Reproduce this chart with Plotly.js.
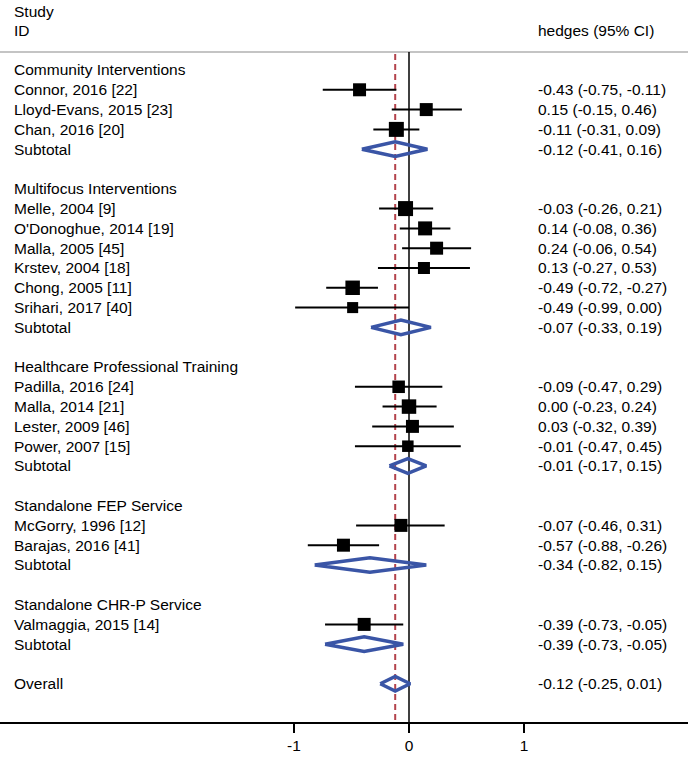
<!DOCTYPE html>
<html>
<head>
<meta charset="utf-8">
<script src="https://cdn.plot.ly/plotly-3.0.1.min.js"></script>
<style>html,body{margin:0;padding:0;background:#fff;}#chart{width:688px;height:758px;}</style>
</head>
<body>
<div id="chart"></div>
<script>
// ---- data ----
const rowLabels = [
  "Community Interventions","Connor, 2016 [22]","Lloyd-Evans, 2015 [23]","Chan, 2016 [20]","Subtotal","",
  "Multifocus Interventions","Melle, 2004 [9]","O'Donoghue, 2014 [19]","Malla, 2005 [45]","Krstev, 2004 [18]","Chong, 2005 [11]","Srihari, 2017 [40]","Subtotal","",
  "Healthcare Professional Training","Padilla, 2016 [24]","Malla, 2014 [21]","Lester, 2009 [46]","Power, 2007 [15]","Subtotal","",
  "Standalone FEP Service","McGorry, 1996 [12]","Barajas, 2016 [41]","Subtotal","",
  "Standalone CHR-P Service","Valmaggia, 2015 [14]","Subtotal","",
  "Overall"
];
// h = group header, s = study, d = pooled (diamond), b = blank
const rowKind = ['h','s','s','s','d','b', 'h','s','s','s','s','s','s','d','b', 'h','s','s','s','s','d','b', 'h','s','s','d','b', 'h','s','d','b', 'd'];
const hedges = [null,-0.43,0.15,-0.11,-0.12,null, null,-0.03,0.14,0.24,0.13,-0.49,-0.49,-0.07,null, null,-0.09,0.00,0.03,-0.01,-0.01,null, null,-0.07,-0.57,-0.34,null, null,-0.39,-0.39,null, -0.12];
const ciLow  = [null,-0.75,-0.15,-0.31,-0.41,null, null,-0.26,-0.08,-0.06,-0.27,-0.72,-0.99,-0.33,null, null,-0.47,-0.23,-0.32,-0.47,-0.17,null, null,-0.46,-0.88,-0.82,null, null,-0.73,-0.73,null, -0.25];
const ciHigh = [null,-0.11,0.46,0.09,0.16,null, null,0.21,0.36,0.54,0.53,-0.27,0.00,0.19,null, null,0.29,0.24,0.39,0.45,0.15,null, null,0.31,-0.26,0.15,null, null,-0.05,-0.05,null, 0.01];
// relative study weights
const studyWeight = [null,11.1,11.1,14.8,null,null, null,14.8,12.9,11.1,9.5,13.8,8.0,null,null, null,10.3,13.8,11.1,8.7,null,null, null,11.1,11.1,null,null, null,11.1,null,null, null];
const overallEstimate = -0.12;
const xTicks = [-1, 0, 1];
const xTickText = ["-1", "0", "1"];

// ---- style ----
const FONT = "Liberation Sans, Arial, Helvetica, sans-serif";
const FS = 15.5;
const BLUE = "#3a55a6";
const RED = "#b3434c";
const rowTop = -3.535, rowBottom = 32.93, sepRow = -0.91;

const rows = rowLabels.map((_, i) => i);
const traces = [];

// CI lines
const lx = [], ly = [];
rows.forEach(i => { if (rowKind[i] === 's') { lx.push(ciLow[i], ciHigh[i], null); ly.push(i, i, null); } });
traces.push({type:'scatter', mode:'lines', x:lx, y:ly, line:{color:'#000', width:2}, hoverinfo:'skip', showlegend:false});

// squares
const sx = [], sy = [], ss = [];
rows.forEach(i => { if (rowKind[i] === 's') { sx.push(hedges[i]); sy.push(i); ss.push(3.9*Math.sqrt(studyWeight[i])); } });
traces.push({type:'scatter', mode:'markers', x:sx, y:sy, marker:{symbol:'square', size:ss, color:'#000', opacity:1, line:{width:0}}, hoverinfo:'skip', showlegend:false});

// diamonds
const dh = 0.37;
rows.forEach(i => {
  if (rowKind[i] === 'd') {
    traces.push({type:'scatter', mode:'lines',
      x:[ciLow[i], hedges[i], ciHigh[i], hedges[i], ciLow[i]],
      y:[i, i-dh, i, i+dh, i],
      line:{color:BLUE, width:3.5}, hoverinfo:'skip', showlegend:false});
  }
});

// annotations
const ann = [];
const leftX = 12/688, rightX = 536/688;
function addText(text, x, y) {
  ann.push({text:text, x:x, xref:'paper', y:y, yref:'y', xanchor:'left', yanchor:'middle', showarrow:false, font:{family:FONT, size:FS, color:'#000'}});
}
rows.forEach(i => {
  if (rowLabels[i]) addText(rowLabels[i], leftX, i);
  if (rowKind[i] === 's' || rowKind[i] === 'd') {
    addText(hedges[i].toFixed(2) + " (" + ciLow[i].toFixed(2) + ", " + ciHigh[i].toFixed(2) + ")", rightX, i);
  }
});
addText("Study", leftX, -2.93);
addText("ID", leftX, -2.0);
addText("hedges (95% CI)", rightX, -2.0);

const shapes = [
  {type:'line', xref:'paper', x0:0, x1:1, yref:'y', y0:sepRow, y1:sepRow, line:{color:'#c4c4c4', width:2}, layer:'below'},
  {type:'line', xref:'x', x0:0, x1:0, yref:'y', y0:sepRow, y1:rowBottom, line:{color:'#000', width:1.5}, layer:'below'},
  {type:'line', xref:'x', x0:overallEstimate, x1:overallEstimate, yref:'y', y0:sepRow+0.1, y1:rowBottom, line:{color:RED, width:2, dash:'6px,4px'}, layer:'below'}
];

const layout = {
  width:688, height:758,
  margin:{l:0, r:0, t:0, b:36, pad:0},
  paper_bgcolor:'#fff', plot_bgcolor:'#fff',
  showlegend:false,
  xaxis:{range:[-409/115, 279/115], autorange:false, showgrid:false, zeroline:false,
         showline:true, linecolor:'#000', linewidth:1.5,
         tickmode:'array', tickvals:xTicks, ticktext:xTickText,
         ticks:'outside', ticklen:9, tickwidth:1.5, tickcolor:'#000',
         tickfont:{family:FONT, size:FS, color:'#000'}, fixedrange:true},
  yaxis:{range:[rowBottom, rowTop], autorange:false, visible:false, showgrid:false, zeroline:false, fixedrange:true},
  annotations:ann,
  shapes:shapes,
  font:{family:FONT, size:FS, color:'#000'}
};

Plotly.newPlot('chart', traces, layout, {staticPlot:true, displayModeBar:false});
</script>
</body>
</html>
